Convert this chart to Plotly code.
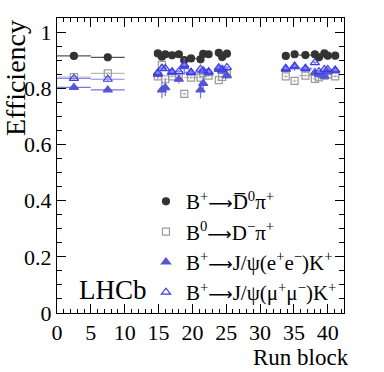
import plotly.graph_objects as go

run = [2.5, 7.5, 14.9, 15.5, 16.0, 17.0, 18.0, 18.8, 19.8, 21.2, 21.6, 22.4, 23.9, 24.4, 25.1,
       33.8, 35.1, 36.7, 38.1, 38.7, 39.5, 40.0, 41.1]
run_err = [2.5, 2.5, 0.3, 0.3, 0.3, 0.5, 0.5, 0.3, 1.0, 0.3, 0.3, 0.5, 0.3, 0.3, 0.3,
           0.3, 0.3, 1.0, 0.3, 0.3, 0.3, 0.3, 0.5]

eff_dpi = [0.915, 0.910, 0.924, 0.912, 0.921, 0.917, 0.921, 0.900, 0.906, 0.903, 0.922, 0.921, 0.926, 0.911, 0.923,
           0.915, 0.921, 0.918, 0.921, 0.910, 0.924, 0.916, 0.916]
err_dpi = [0.003] * 23

eff_d0pi = [0.840, 0.853, 0.842, 0.883, 0.832, 0.842, 0.848, 0.780, 0.838, 0.838, 0.855, 0.845, 0.829, 0.840, 0.850,
            0.842, 0.826, 0.845, 0.833, 0.839, 0.845, 0.849, 0.842]
err_d0pi = [0.005] * 23

eff_ee = [0.803, 0.794, 0.849, 0.794, 0.802, 0.856, 0.832, 0.877, 0.855, 0.794, 0.817, 0.855, 0.867, 0.862, 0.845,
          0.867, 0.877, 0.869, 0.856, 0.849, 0.843, 0.858, 0.863]
err_ee = [0.006, 0.006, 0.015, 0.03, 0.03, 0.01, 0.015, 0.03, 0.01, 0.03, 0.025, 0.01, 0.01, 0.012, 0.01,
          0.01, 0.015, 0.01, 0.01, 0.012, 0.012, 0.01, 0.01]

eff_mm = [0.835, 0.832, 0.855, 0.871, 0.870, 0.859, 0.859, 0.883, 0.857, 0.868, 0.862, 0.859, 0.873, 0.868, 0.874,
          0.871, 0.879, 0.871, 0.891, 0.859, 0.867, 0.867, 0.865]
err_mm = [0.006] * 23

ARROW = '<span style="font-family:DejaVu Sans;font-size:17px">⟶</span>'
labels = ["B<sup>+</sup>" + ARROW + "D\u0305<sup>0</sup>π<sup>+</sup>",
          "B<sup>0</sup>" + ARROW + "D<sup>−</sup>π<sup>+</sup>",
          "B<sup>+</sup>" + ARROW + "J/ψ(e<sup>+</sup>e<sup>−</sup>)K<sup>+</sup>",
          "B<sup>+</sup>" + ARROW + "J/ψ(μ<sup>+</sup>μ<sup>−</sup>)K<sup>+</sup>"]

FONT = "Liberation Serif, Times New Roman, serif"

series = [
    (eff_dpi, err_dpi, "circle", 7, "#333333", "#555555"),
    (eff_d0pi, err_d0pi, "square-open", 7, "#9a9a9a", "#bbbbbb"),
    (eff_ee, err_ee, "triangle-up", 8, "#5555d5", "#7777e0"),
    (eff_mm, err_mm, "triangle-up-open", 8, "#3b3bea", "#8888ee"),
]

fig = go.Figure()
for i, (vals, errs, sym, size, col, ecol) in enumerate(series):
    fig.add_trace(go.Scatter(
        x=run, y=vals, mode="markers", name=labels[i],
        legendgroup=f"g{i}",
        marker=dict(symbol=sym, size=size, color=col, line=dict(color=col, width=1.2)),
        error_x=dict(type="data", array=run_err, width=0, color=ecol, thickness=1.2),
        error_y=dict(type="data", array=errs, width=0, color=ecol, thickness=1.2),
    ))

axis_common = dict(
    showline=True, linecolor="black", linewidth=1, mirror="allticks",
    ticks="inside", tickcolor="black", ticklen=9, tickwidth=1,
    showgrid=False, zeroline=False,
    tickfont=dict(family=FONT, size=22, color="black"),
)

fig.update_xaxes(range=[0, 42.4], tickmode="linear", tick0=0, dtick=5,
                 minor=dict(ticks="inside", ticklen=4, dtick=1, tickcolor="black", showgrid=False),
                 **axis_common)
fig.update_yaxes(range=[0, 1.05], tickmode="linear", tick0=0, dtick=0.2,
                 minor=dict(ticks="inside", ticklen=5, dtick=0.05, tickcolor="black", showgrid=False),
                 **axis_common)

fig.update_layout(
    width=384, height=372,
    margin=dict(l=57, r=40, t=18, b=59),
    paper_bgcolor="white", plot_bgcolor="white",
    font=dict(family=FONT, color="black"),
    legend=dict(x=0.31, y=0.447, xanchor="left", yanchor="top",
                font=dict(family=FONT, size=21, color="black"),
                bgcolor="rgba(0,0,0,0)", traceorder="grouped", tracegroupgap=0,
                itemwidth=30),
    annotations=[
        dict(text="LHCb", xref="paper", yref="paper", x=0.195, y=0.078,
             xanchor="center", yanchor="middle",
             showarrow=False, font=dict(family=FONT, size=27, color="black")),
        dict(text="Efficiency", xref="paper", yref="paper", x=-0.146, y=1.0,
             xanchor="center", yanchor="top", textangle=-90, showarrow=False,
             font=dict(family=FONT, size=28, color="black")),
        dict(text="Run block", xref="paper", yref="paper", x=1.024, y=-0.10,
             xanchor="right", yanchor="top", showarrow=False,
             font=dict(family=FONT, size=23, color="black")),
    ],
)

fig.write_html("out.html", config={"displayModeBar": False},
               post_script="document.body.style.margin='0';")
